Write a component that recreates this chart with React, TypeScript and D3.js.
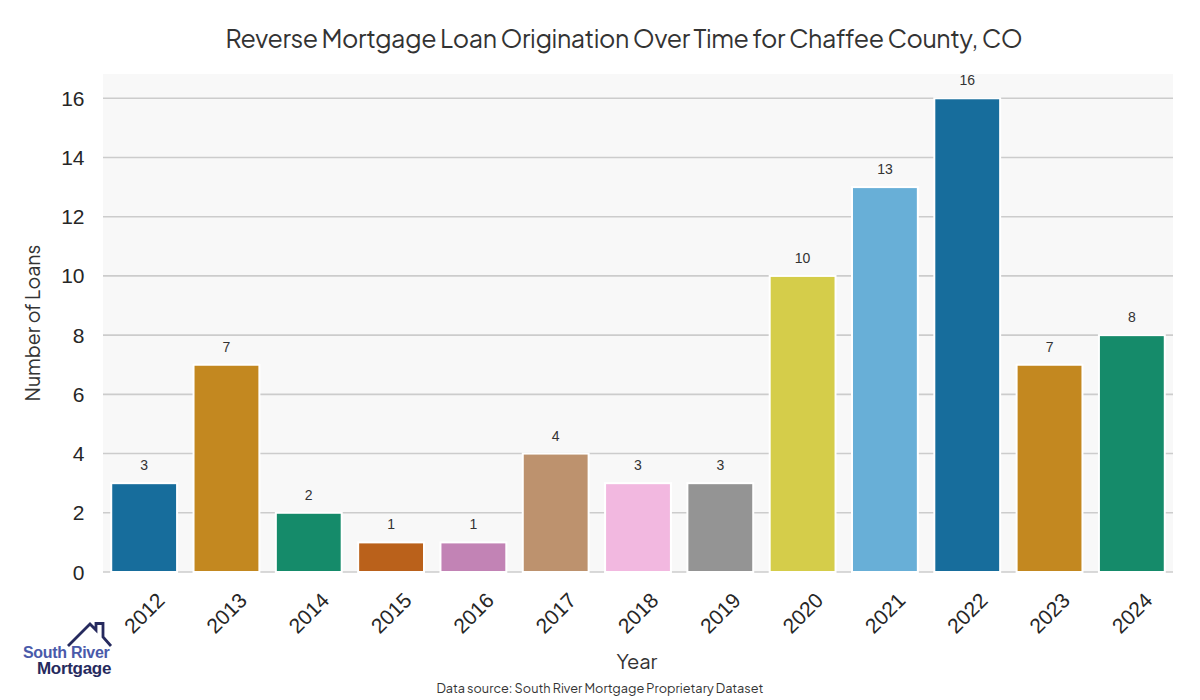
import React from "react";
import * as d3 from "d3";

const years = ["2012","2013","2014","2015","2016","2017","2018","2019","2020","2021","2022","2023","2024"];
const loans = [3, 7, 2, 1, 1, 4, 3, 3, 10, 13, 16, 7, 8];
const palette = ["#0173B2","#DE8F05","#029E73","#D55E00","#CC78BC","#CA9161","#FBAFE4","#949494","#ECE133","#56B4E9","#0173B2","#DE8F05","#029E73"];
const yTicks = [0, 2, 4, 6, 8, 10, 12, 14, 16];

const title = "Reverse Mortgage Loan Origination Over Time for Chaffee County, CO";
const xLabel = "Year";
const yLabel = "Number of Loans";
const source = "Data source: South River Mortgage Proprietary Dataset";

const W = 1200, H = 700;
const left = 103, right = 1173, top = 74, bottom = 572;
const jakarta = "'Plus Jakarta Sans', Inter, 'Open Sans', sans-serif";
const arial = "'Liberation Sans', Arial, sans-serif";

function desat(c: string) {
  const h = d3.hsl(c);
  h.s *= 0.75;
  return h.formatHex();
}

export default function App() {
  const x = d3.scaleBand<string>().domain(years).range([left, right]).paddingInner(0.2).paddingOuter(0.1);
  const y = d3.scaleLinear().domain([0, 16.82]).range([bottom, top]);
  return (
    <svg width={W} height={H} style={{ display: "block", position: "absolute", left: 0, top: 0 }}>
      <rect x={0} y={0} width={W} height={H} fill="#ffffff" />
      <rect x={left} y={top} width={right - left} height={bottom - top} fill="#f8f8f8" />
      {yTicks.map((t) => (
        <g key={t}>
          <line x1={left} x2={right} y1={y(t)} y2={y(t)} stroke="#cccccc" strokeWidth={1.6} />
          <text x={84.5} y={y(t)} dy="0.36em" textAnchor="end" fontFamily={arial} fontSize={21} fill="#262626">{t}</text>
        </g>
      ))}
      {years.map((yr, i) => {
        const bx = x(yr)!;
        const bw = x.bandwidth();
        const cx = bx + bw / 2;
        return (
          <g key={yr}>
            <rect x={bx} y={y(loans[i])} width={bw} height={y(0) - y(loans[i])} fill={desat(palette[i])} stroke="#ffffff" strokeWidth={2} />
            <text x={cx} y={y(loans[i]) - 13} textAnchor="middle" fontFamily={arial} fontSize={14} fill="#333333">{loans[i]}</text>
            <text transform={`translate(${cx},${613}) rotate(-45)`} textAnchor="middle" dominantBaseline="central" fontFamily={arial} fontSize={21} fill="#262626">{yr}</text>
          </g>
        );
      })}
      <text x={624} y={48} textAnchor="middle" fontFamily={jakarta} fontSize={25} letterSpacing={-0.4} fill="#333333">{title}</text>
      <text transform={`translate(40,${323}) rotate(-90)`} textAnchor="middle" fontFamily={jakarta} fontSize={19.5} fill="#333333">{yLabel}</text>
      <text x={637} y={669} textAnchor="middle" fontFamily={jakarta} fontSize={20} fill="#333333">{xLabel}</text>
      <text x={600} y={693} textAnchor="middle" fontFamily={jakarta} fontSize={12.7} fill="#333333">{source}</text>
      <g>
        <path d="M68,646 L90,624 L96,630 L96,623.5 L103,623.5 L103,637 L111,646" fill="none" stroke="#262a5e" strokeWidth={2.8} strokeLinejoin="miter" />
        <text x={23} y={658} fontFamily={arial} fontWeight="bold" fontSize={16} fill="#4a5aaa" letterSpacing={-0.3}>South River</text>
        <text x={37} y={674} fontFamily={arial} fontWeight="bold" fontSize={17} fill="#262a5e" letterSpacing={-0.3}>Mortgage</text>
      </g>
    </svg>
  );
}
